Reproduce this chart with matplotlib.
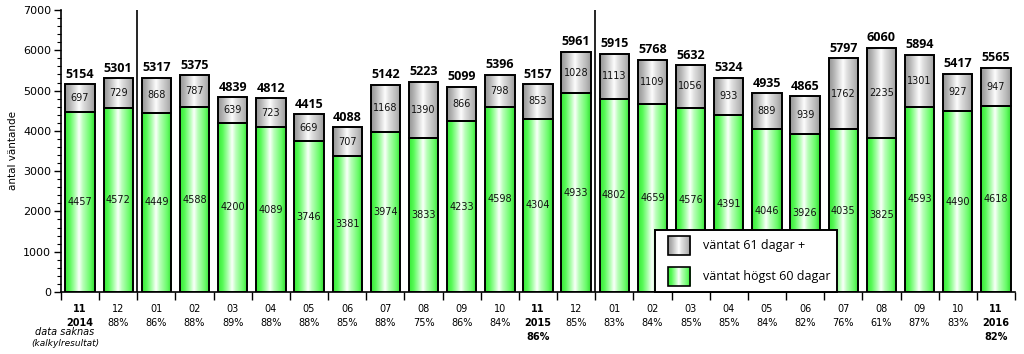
import numpy as np
import matplotlib
matplotlib.use("Agg")
import matplotlib.pyplot as plt
from matplotlib.colors import LinearSegmentedColormap
from matplotlib.patches import Rectangle
from matplotlib.legend_handler import HandlerBase
from matplotlib.image import BboxImage
from matplotlib.transforms import Bbox, TransformedBbox

months = ["11", "12", "01", "02", "03", "04", "05", "06", "07", "08", "09", "10", "11", "12",
          "01", "02", "03", "04", "05", "06", "07", "08", "09", "10", "11"]
shares = ["", "88%", "86%", "88%", "89%", "88%", "88%", "85%", "88%", "75%", "86%", "84%", "86%", "85%",
          "83%", "84%", "85%", "85%", "84%", "82%", "76%", "61%", "87%", "83%", "82%"]
green_vals = [4457, 4572, 4449, 4588, 4200, 4089, 3746, 3381, 3974, 3833, 4233, 4598, 4304, 4933,
              4802, 4659, 4576, 4391, 4046, 3926, 4035, 3825, 4593, 4490, 4618]
gray_vals = [697, 729, 868, 787, 639, 723, 669, 707, 1168, 1390, 866, 798, 853, 1028,
             1113, 1109, 1056, 933, 889, 939, 1762, 2235, 1301, 927, 947]
totals = [5154, 5301, 5317, 5375, 4839, 4812, 4415, 4088, 5142, 5223, 5099, 5396, 5157, 5961,
          5915, 5768, 5632, 5324, 4935, 4865, 5797, 6060, 5894, 5417, 5565]
year_marks = {0: "2014", 12: "2015", 24: "2016"}
label_green = "väntat högst 60 dagar"
label_gray = "väntat 61 dagar +"

green_cmap = LinearSegmentedColormap.from_list(
    "g", [(0.0, "#38e838"), (0.15, "#55fa55"), (0.32, "#a8ffa8"), (0.47, "#fbfffb"),
          (0.6, "#b8ffb8"), (0.85, "#66fb66"), (1.0, "#30dc30")])
gray_cmap = LinearSegmentedColormap.from_list(
    "k", [(0.0, "#959595"), (0.15, "#b0b0b0"), (0.32, "#d8d8d8"), (0.47, "#fdfdfd"),
          (0.6, "#e0e0e0"), (0.85, "#b8b8b8"), (1.0, "#9a9a9a")])
grad = np.linspace(0, 1, 256).reshape(1, -1)

fig = plt.figure(figsize=(10.24, 3.54), dpi=100)
ax = fig.add_axes([61 / 1024, 62 / 354, 954 / 1024, 282 / 354])

x = np.arange(len(months))
w = 0.77
bars_g = ax.bar(x, green_vals, width=w, color="none", edgecolor="black", linewidth=1.4, zorder=3)
bars_k = ax.bar(x, gray_vals, width=w, bottom=green_vals, color="none", edgecolor="black",
                linewidth=1.4, zorder=3)

for bars, cmap in ((bars_g, green_cmap), (bars_k, gray_cmap)):
    for b in bars:
        x0, y0 = b.get_x(), b.get_y()
        im = ax.imshow(grad, cmap=cmap, aspect="auto", interpolation="bilinear",
                       extent=(x0, x0 + b.get_width(), y0, y0 + b.get_height()), zorder=2)
        im.set_clip_path(b)

ax.set_xlim(-0.5, len(months) - 0.5)
ax.set_ylim(0, 7000)

# value labels
for i in range(len(months)):
    g, k, t = green_vals[i], gray_vals[i], totals[i]
    ax.text(i, g / 2, str(g), ha="center", va="center", fontsize=7, color="#111111", zorder=4)
    ax.text(i, g + k / 2, str(k), ha="center", va="center", fontsize=7, color="#111111", zorder=4)
    ax.annotate(str(t), (i, g + k), xytext=(0, 2.5), textcoords="offset points", ha="center",
                va="bottom", fontsize=9, fontweight="bold", family="Open Sans", zorder=4)

# separators between years
for sep in (1.5, 13.5):
    ax.axvline(sep, color="black", linewidth=1.2, zorder=1)

# axes styling
for s in ("top", "right"):
    ax.spines[s].set_visible(False)
for s in ("left", "bottom"):
    ax.spines[s].set_linewidth(1.2)
ax.set_yticks(np.arange(0, 7001, 1000))
ax.set_yticks(np.arange(0, 7001, 200), minor=True)
ax.tick_params(axis="y", which="major", length=5, width=1, labelsize=8, pad=2)
ax.tick_params(axis="y", which="minor", length=3, width=0.8)
ax.set_xticks(np.arange(-0.5, len(months), 1.0))
ax.set_xticklabels([])
ax.tick_params(axis="x", which="major", length=6, width=1)
ax.set_ylabel("antal väntande", fontsize=7.5, labelpad=4)

px = 0.72  # points per pixel
def put(i, dy, txt, size=7, dx=0, **kw):
    ax.annotate(txt, (i, 0), xycoords=("data", "axes fraction"), xytext=(dx * px, -dy * px),
                textcoords="offset points", ha="center", va="center", fontsize=size, **kw)

for i in range(len(months)):
    bold = i in year_marks
    put(i, 17, months[i], fontweight="bold" if bold else "normal")
    if bold:
        put(i, 31, year_marks[i], fontweight="bold")
        if shares[i]:
            put(i, 45, shares[i], fontweight="bold")
    else:
        put(i, 31, shares[i])

put(0, 40, "data saknas", dx=-15, fontstyle="italic")
put(0, 51, "(kalkylresultat)", size=6.5, dx=-15, fontstyle="italic")


class GradHandler(HandlerBase):
    def __init__(self, cmap):
        super().__init__()
        self.cmap = cmap

    def create_artists(self, legend, orig_handle, xdescent, ydescent, width, height, fontsize, trans):
        x0 = -xdescent + 0.24 * width
        ww = 0.76 * width
        bb = TransformedBbox(Bbox.from_bounds(x0, -ydescent, ww, height), trans)
        im = BboxImage(bb, cmap=self.cmap, interpolation="bilinear")
        im.set_data(grad)
        rect = Rectangle((x0, -ydescent), ww, height, facecolor="none",
                         edgecolor="black", linewidth=1.2, transform=trans)
        return [im, rect]


hk = Rectangle((0, 0), 1, 1)
hg = Rectangle((0, 0), 1, 1)
leg = ax.legend([hk, hg], [label_gray, label_green],
                handler_map={hk: GradHandler(gray_cmap), hg: GradHandler(green_cmap)},
                loc="lower left", bbox_to_anchor=(594 / 954, 0.0), fancybox=False,
                framealpha=1, edgecolor="black", prop={"family": "Open Sans", "size": 9},
                handlelength=2.32, handleheight=1.95, labelspacing=0.95, handletextpad=1.05,
                borderpad=0.5, borderaxespad=0)
leg.get_frame().set_linewidth(1.4)
leg.set_zorder(5)

fig.savefig("out.png", dpi=100)
